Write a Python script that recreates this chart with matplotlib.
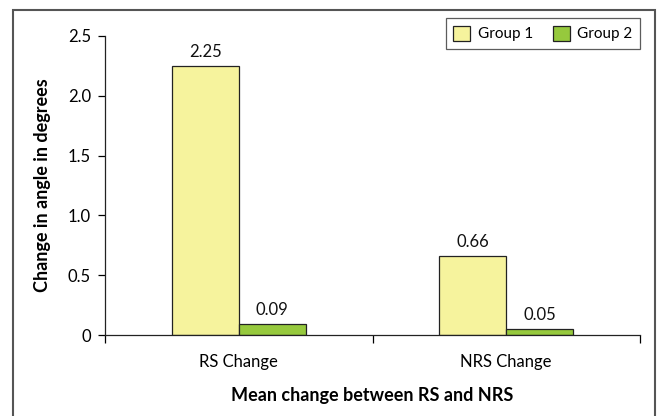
import numpy as np
import matplotlib.pyplot as plt
from matplotlib.patches import Rectangle

plt.rcParams['font.family'] = ['Lato', 'DejaVu Sans']

categories = ['RS Change', 'NRS Change']
groups = ['Group 1', 'Group 2']
group1 = [2.25, 0.66]
group2 = [0.09, 0.05]
yticks = [0, 0.5, 1.0, 1.5, 2.0, 2.5]
ytick_labels = ['0', '0.5', '1.0', '1.5', '2.0', '2.5']

yellow = '#F6F39D'
green = '#96C93D'

fig = plt.figure(figsize=(6.6, 4.16), dpi=100)
# outer chart frame
fig.patches.append(Rectangle((13 / 660, -0.05), (655 - 13) / 660, 1.05 - 10 / 416,
                             transform=fig.transFigure, fill=False,
                             edgecolor='#555555', linewidth=1.5))

ax = fig.add_axes([105 / 660, 1 - 335 / 416, 535 / 660, 299 / 416])

x = np.arange(len(categories))
w = 0.25
b1 = ax.bar(x - w / 2, group1, w, color=yellow, edgecolor='#222222', linewidth=0.9, label=groups[0])
b2 = ax.bar(x + w / 2, group2, w, color=green, edgecolor='#222222', linewidth=0.9, label=groups[1])

for bars, vals in [(b1, group1), (b2, group2)]:
    for bar, v in zip(bars, vals):
        ax.text(bar.get_x() + bar.get_width() / 2, v + 0.05, f'{v:.2f}',
                ha='center', va='bottom', fontsize=12, color='#111111')

ax.set_xlim(-0.5, 1.5)
ax.set_ylim(0, 2.5)
ax.set_yticks(yticks)
ax.set_yticklabels(ytick_labels, fontsize=12)
ax.set_xticks(x)
ax.set_xticklabels(categories, fontsize=12)
ax.tick_params(axis='x', length=0, pad=14)
ax.tick_params(axis='y', length=5, width=0.9, pad=5)
# category boundary ticks below the axis
ax.set_xticks([-0.5, 0.5, 1.5], minor=True)
ax.tick_params(axis='x', which='minor', length=6, width=0.9, direction='out')

for s in ['top', 'right']:
    ax.spines[s].set_visible(False)
for s in ['left', 'bottom']:
    ax.spines[s].set_linewidth(0.9)
    ax.spines[s].set_color('#222222')

ax.set_ylabel('Change in angle in degrees', fontsize=13, fontweight='bold', labelpad=12)
ax.set_xlabel('Mean change between RS and NRS', fontsize=13, fontweight='bold', labelpad=12)

leg = ax.legend(loc='upper right', bbox_to_anchor=(1.015, 1.085), ncol=2, fontsize=11,
                frameon=True, fancybox=False, edgecolor='#333333', handlelength=1.1,
                handleheight=1.1, columnspacing=1.3, handletextpad=0.5, borderpad=0.5)
leg.get_frame().set_linewidth(0.9)

fig.savefig('out.png', dpi=100)
